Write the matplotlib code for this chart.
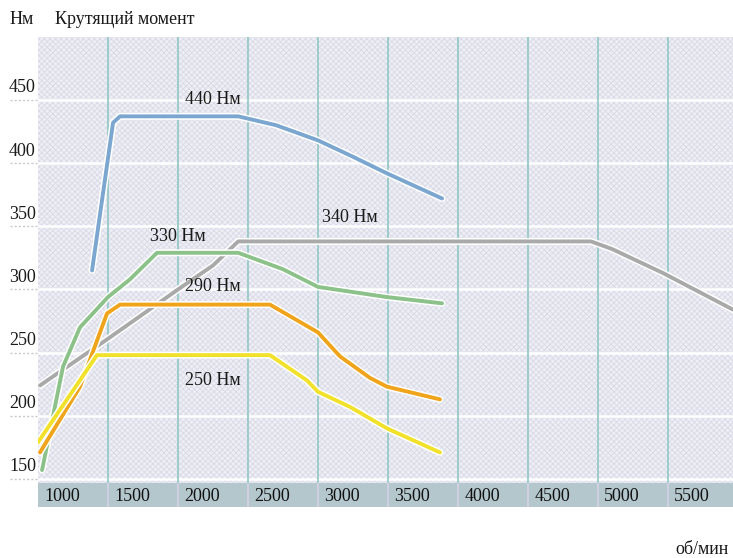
import matplotlib.pyplot as plt
import matplotlib.patheffects as pe
from matplotlib.patches import Rectangle
from matplotlib.transforms import blended_transform_factory

# torque curves, rpm vs Nm
rpm_440 = [1386, 1536, 1586, 1650, 2000, 2430, 2700, 3000, 3250, 3490, 3886]
nm_440 = [315, 432, 437, 437, 437, 437, 430, 418, 405, 392, 372]

rpm_340 = [1014, 1500, 2000, 2250, 2430, 3000, 4000, 4950, 5100, 5464, 5964]
nm_340 = [224, 261, 300, 319, 338, 338, 338, 338, 332, 313, 284]

rpm_330 = [1029, 1179, 1300, 1500, 1657, 1850, 2000, 2430, 2750, 3000, 3490, 3886]
nm_330 = [157, 239, 270, 294, 308, 329, 329, 329, 316, 302, 294, 289]

rpm_290 = [1014, 1300, 1493, 1586, 2000, 2657, 3000, 3157, 3371, 3493, 3871]
nm_290 = [171, 223, 281, 288, 288, 288, 266, 247, 230, 223, 213]

rpm_250 = [1000, 1421, 2000, 2657, 2921, 3000, 3229, 3493, 3871]
nm_250 = [179, 248, 248, 248, 228, 219, 207, 190, 171]

y_ticks = [150, 200, 250, 300, 350, 400, 450]
x_ticks = [1000, 1500, 2000, 2500, 3000, 3500, 4000, 4500, 5000, 5500]

W, H = 733, 558
FS = 13
fig = plt.figure(figsize=(W / 100, H / 100), dpi=100)
fig.patch.set_facecolor('white')
plt.rcParams['font.family'] = ['Liberation Serif', 'DejaVu Serif']
plt.rcParams['hatch.linewidth'] = 0.6

ax = fig.add_axes([38 / W, 1 - 483 / H, 1 - 38 / W, (483 - 37) / H])
ax.set_facecolor('#eeeff4')
ax.add_patch(Rectangle((0, 0), 1, 1, transform=ax.transAxes, facecolor='none',
                       edgecolor='#d9d9e8', hatch='xxxxxx', lw=0, zorder=0))
ax.set_xlim(1000, 5964)
ax.set_ylim(146.8, 499.8)
for s in ax.spines.values():
    s.set_visible(False)
ax.set_xticks([])
ax.set_yticks([])

# grid
for v in y_ticks:
    ax.axhline(v, color='white', lw=1.8, zorder=1)
for v in x_ticks[1:]:
    ax.axvline(v, color='#96cac8', lw=1.3, zorder=1)

trans = blended_transform_factory(fig.transFigure, ax.transData)
for v in y_ticks:
    ax.plot([10 / W, 38 / W], [v, v], transform=trans, color='#c8c8d0',
            lw=1, ls=(0, (1.5, 1.5)), clip_on=False)
    ax.annotate(str(v), xy=(9 / W, v), xycoords=trans, xytext=(0, 2.5),
                textcoords='offset points', ha='left', va='bottom',
                fontsize=FS, color='#1a1a1a')

series = [
    (rpm_440, nm_440, '#7aa6cf'),
    (rpm_340, nm_340, '#a9a9a9'),
    (rpm_330, nm_330, '#8cc28a'),
    (rpm_290, nm_290, '#f0a41c'),
    (rpm_250, nm_250, '#f2e12a'),
]
for i, (xs, ys, c) in enumerate(series):
    ax.plot(xs, ys, color=c, lw=2.8, solid_capstyle='round',
            solid_joinstyle='round', zorder=3 + i,
            path_effects=[pe.Stroke(linewidth=5, foreground='white'), pe.Normal()])

labels = [(2050, 450, '440 Нм'), (3029, 356.7, '340 Нм'), (1800, 341.6, '330 Нм'),
          (2050, 302, '290 Нм'), (2050, 228, '250 Нм')]
for x, y, t in labels:
    ax.text(x, y, t, fontsize=FS, color='#1a1a1a', ha='left', va='center', zorder=10)

# rpm band
band = fig.add_axes([38 / W, 1 - 507 / H, 1 - 38 / W, 24 / H])
band.set_facecolor('#b3c7cd')
band.set_xlim(ax.get_xlim())
band.set_ylim(0, 1)
for s in band.spines.values():
    s.set_visible(False)
band.set_xticks([])
band.set_yticks([])
for v in x_ticks[1:]:
    band.axvline(v, color='#d0d2e4', lw=1.4)
for v in x_ticks:
    band.text(v + 45, 0.45, str(v), fontsize=FS, color='#111111',
              ha='left', va='center')

fig.text(10 / W, 1 - 20 / H, 'Нм', fontsize=FS, color='#1a1a1a', va='center')
fig.text(55 / W, 1 - 20 / H, 'Крутящий момент', fontsize=FS, color='#1a1a1a', va='center')
fig.text(729 / W, 1 - 550 / H, 'об/мин', fontsize=FS, color='#1a1a1a',
         ha='right', va='center')

fig.savefig('out.png', dpi=100)
